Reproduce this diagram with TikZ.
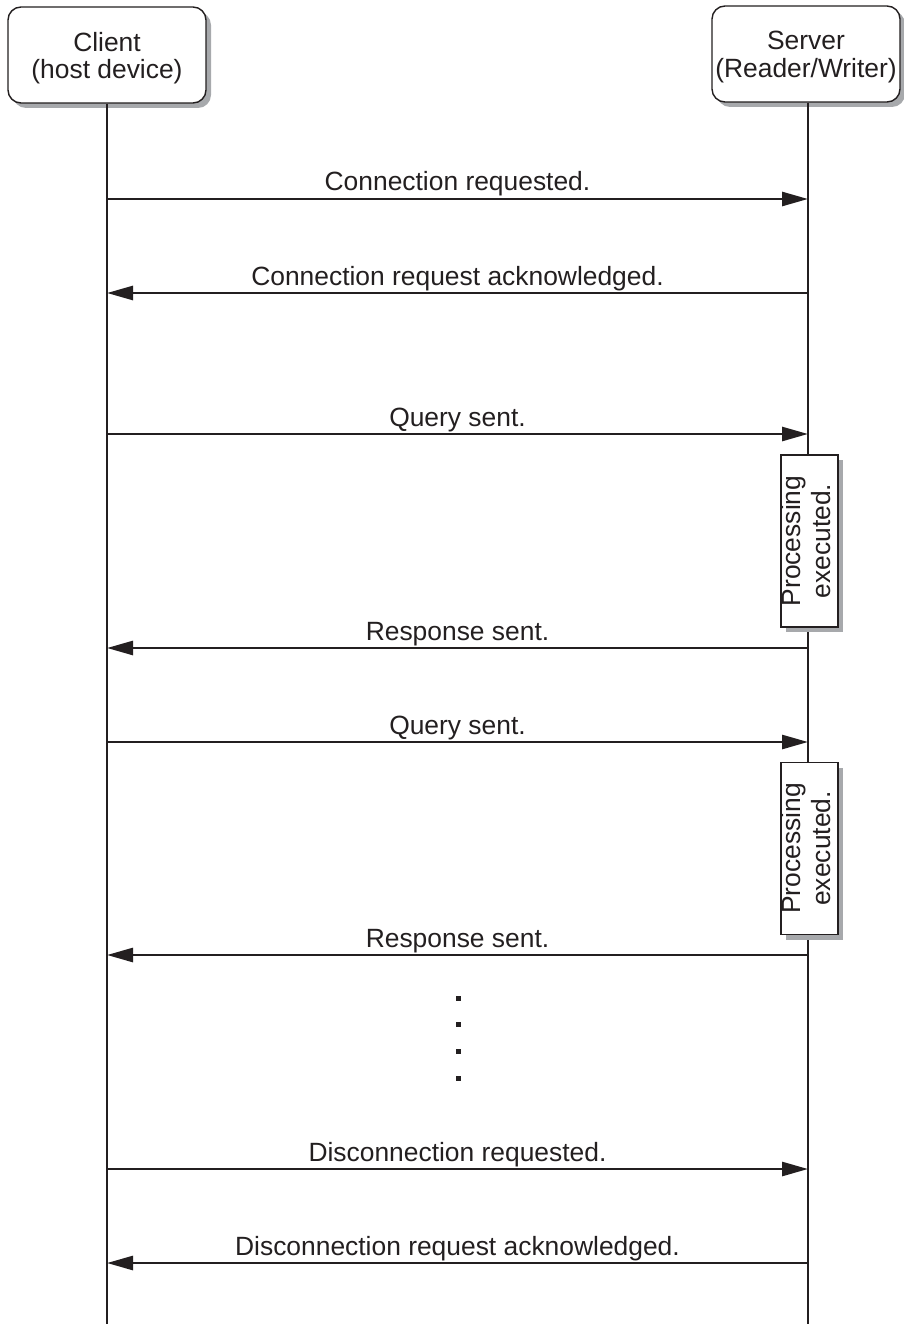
\documentclass[tikz,border=0pt]{standalone}
\usepackage{fontspec}
\setmainfont{Liberation Sans}
\usetikzlibrary{arrows.meta,shadows}
\definecolor{ink}{HTML}{231F20}
\definecolor{shade}{HTML}{A7A9AC}
\newcommand{\hdrtext}[2]{\raisebox{-4pt}[\height][\depth]{\begin{tabular}{@{}c@{}}#1\\[1pt]#2\end{tabular}}}
\newcommand{\proctext}{\rotatebox{90}{\begin{tabular}{@{}c@{}}Processing\\[3pt]executed.\end{tabular}}}
\begin{document}
\begin{tikzpicture}[x=1pt,y=-1pt,
  font=\fontsize{26.4}{24}\selectfont, text=ink,
  shd/.style={drop shadow={shadow xshift=5pt,shadow yshift=-5pt,fill=shade,opacity=1}},
  hdr/.style={draw=ink, line width=1.4pt, rounded corners=13pt, fill=white,
    minimum height=96pt, inner sep=0pt, shd},
  proc/.style={draw=ink, line width=1.4pt, fill=white, minimum width=57pt,
    minimum height=172pt, inner sep=0pt, shd},
  life/.style={draw=ink, line width=2.4pt},
  msg/.style={draw=ink, line width=2.7pt, -{Triangle[length=26pt,width=14pt]}},
  lbl/.style={anchor=base, yshift=8pt, inner sep=0pt},
  dotm/.style={fill=ink, minimum size=5pt, inner sep=0pt}]
\useasboundingbox (0,0) rectangle (904,1324);

% headers
\node[hdr, minimum width=198pt] (client) at (107,55) {\hdrtext{Client}{(host device)}};
\node[hdr, minimum width=188pt] (server) at (806,54) {\hdrtext{Server}{(Reader/Writer)}};

% lifelines
\coordinate (cl) at (107,1324);
\coordinate (sl) at (808,1324);
\draw[life] (client.south -| cl) -- (cl);
\draw[life] (server.south -| sl) -- (sl);

% processing boxes
\node[proc] (p1) at (809.5,541) {\proctext};
\node[proc] (p2) at (809.5,848.5) {\proctext};

% message endpoints
\foreach \i/\y in {1/199,2/293,3/434,4/648,5/742,6/955,7/1169,8/1263}{
  \coordinate (c\i) at (107,\y);
  \coordinate (s\i) at (808,\y);
}

\draw[msg] (c1) -- node[lbl]{Connection requested.} (s1);
\draw[msg] (s2) -- node[lbl]{Connection request acknowledged.} (c2);
\draw[msg] (c3) -- node[lbl]{Query sent.} (s3);
\draw[msg] (s4) -- node[lbl]{Response sent.} (c4);
\draw[msg] (c5) -- node[lbl]{Query sent.} (s5);
\draw[msg] (s6) -- node[lbl]{Response sent.} (c6);
\draw[msg] (c7) -- node[lbl]{Disconnection requested.} (s7);
\draw[msg] (s8) -- node[lbl]{Disconnection request acknowledged.} (c8);

% continuation dots
\node[dotm] (d1) at (458,998) {};
\node[dotm] (d2) at (458,1024) {};
\node[dotm] (d3) at (458,1051) {};
\node[dotm] (d4) at (458,1078) {};
\end{tikzpicture}
\end{document}
